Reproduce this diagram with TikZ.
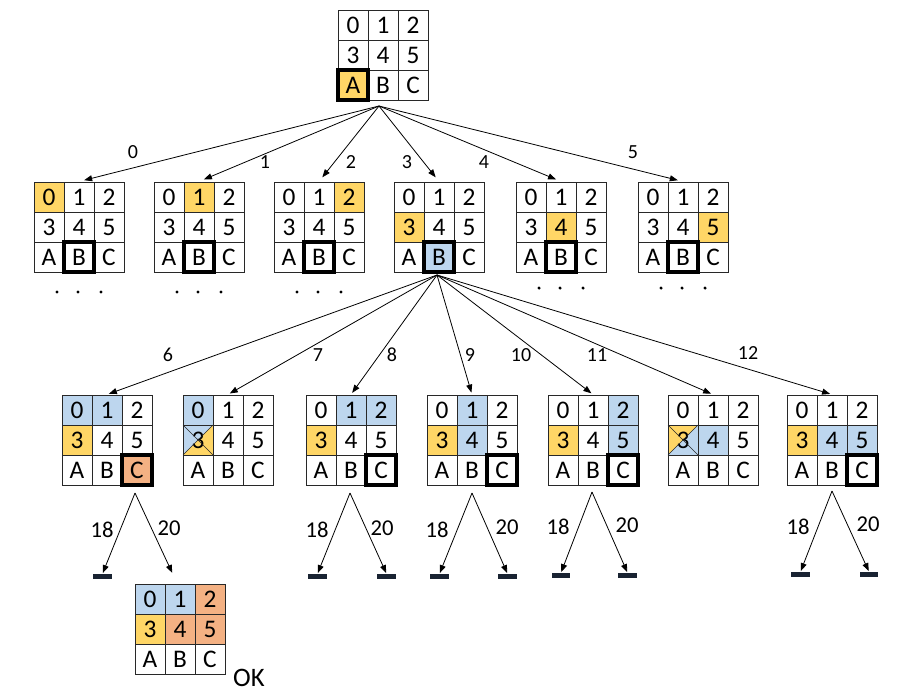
\documentclass[tikz,border=0pt]{standalone}
\usepackage{fontspec}
\setmainfont{Carlito}
\usetikzlibrary{arrows.meta}
\definecolor{cyel}{RGB}{255,214,102}
\definecolor{cblu}{RGB}{189,214,238}
\definecolor{corg}{RGB}{244,177,131}
\definecolor{cbar}{RGB}{25,35,50}
\definecolor{cline}{RGB}{40,40,40}
\tikzset{
 celltxt/.style={inner sep=0pt, font=\fontsize{19}{19}\selectfont},
 gridbox/.style={draw=cline, line width=0.75pt, minimum width=67.5pt, minimum height=67.5pt, inner sep=0pt},
 gline/.style={draw=cline, line width=0.75pt},
 boldcell/.style={draw=black, line width=2.3pt},
 arr/.style={-{Triangle[length=6pt,width=4.5pt]}, line width=0.6pt, shorten >=0.5pt},
 elab/.style={font=\fontsize{15}{15}\selectfont, inner sep=0pt},
 blab/.style={font=\fontsize{17}{17}\selectfont, inner sep=0pt},
 barnode/.style={fill=cbar, minimum width=14pt, minimum height=3.8pt, inner sep=0pt},
 xline/.style={draw=cline, line width=0.5pt},
}
\newcommand{\fc}[5]{\fill[#5] ({#1+30*#3},{#2+30*#4}) rectangle ++(30,30);}
\newcommand{\bc}[4]{\draw[boldcell] ({#1+30*#3},{#2+30*#4}) rectangle ++(30,30);}
\newcommand{\gridbody}[3]{%
  \foreach \kk in {1,2} {\draw[gline] ({#2+30*\kk},#3) -- ++(0,90); \draw[gline] (#2,{#3+30*\kk}) -- ++(90,0);}
  \node[gridbox] (#1) at ({#2+45},{#3+45}) {};
  \foreach \t [count=\i from 0] in {0,1,2,3,4,5,A,B,C} {
    \pgfmathtruncatemacro\cc{mod(\i,3)}\pgfmathtruncatemacro\rr{div(\i,3)}
    \node[celltxt] (#1-\i) at ({#2+15+30*\cc},{#3+15+30*\rr}) {\t};
  }
}
% crossed cell 3: x y (grid top-left), colour of upper-left half, colour of lower-right half
\newcommand{\xcell}[4]{%
  \fill[#3] (#1,{#2+30}) -- ++(30,0) -- ++(-30,30) -- cycle;
  \fill[#4] ({#1+30},{#2+30}) -- ++(0,30) -- ++(-30,0) -- cycle;
}
\newcommand{\xlines}[2]{%
  \draw[xline] (#1,{#2+30}) -- ++(30,30);
  \draw[xline] ({#1+30},{#2+30}) -- ++(-30,30);
}
\begin{document}
\begin{tikzpicture}[x=0.75pt,y=-0.75pt]
\useasboundingbox (0,0) rectangle (917,694);
\fill[white] (0,0) rectangle (917,694);

% top grid
\fc{338}{10}{0}{2}{cyel}
\gridbody{top}{338}{10}
\bc{338}{10}{0}{2}

% row 2
\foreach \x [count=\k from 0] in {34,154,274,394,516,638} {
  \pgfmathtruncatemacro\ca{mod(\k,3)}\pgfmathtruncatemacro\ra{div(\k,3)}
  \fc{\x}{182}{\ca}{\ra}{cyel}
}
\fc{394}{182}{1}{2}{cblu}
\foreach \x [count=\k from 0] in {34,154,274,394,516,638} {
  \gridbody{r\k}{\x}{182}
  \bc{\x}{182}{1}{2}
}
% dots
\foreach \x/\y in {34/292,154/292,274/292,516/288,638/288} {
  \foreach \d in {23,44,67} {\fill ({\x+\d},\y) circle (1.3pt);}
}

% row 3 fills
\fc{62}{395}{0}{0}{cblu}\fc{62}{395}{1}{0}{cblu}\fc{62}{395}{0}{1}{cyel}\fc{62}{395}{2}{2}{corg}
\fc{183}{395}{0}{0}{cblu}\xcell{183}{395}{cblu}{cyel}
\fc{306}{395}{1}{0}{cblu}\fc{306}{395}{2}{0}{cblu}\fc{306}{395}{0}{1}{cyel}
\fc{427}{395}{1}{0}{cblu}\fc{427}{395}{1}{1}{cblu}\fc{427}{395}{0}{1}{cyel}
\fc{548}{395}{2}{0}{cblu}\fc{548}{395}{2}{1}{cblu}\fc{548}{395}{0}{1}{cyel}
\fc{668}{395}{1}{1}{cblu}\xcell{668}{395}{cyel}{cblu}
\fc{787}{395}{1}{1}{cblu}\fc{787}{395}{2}{1}{cblu}\fc{787}{395}{0}{1}{cyel}
\foreach \x [count=\k from 1] in {62,183,306,427,548,668,787} {
  \gridbody{s\k}{\x}{395}
}
\xlines{183}{395}
\xlines{668}{395}
\foreach \x in {62,306,427,548,787} {\bc{\x}{395}{2}{2}}

% final grid
\fc{135}{584}{0}{0}{cblu}\fc{135}{584}{1}{0}{cblu}\fc{135}{584}{0}{1}{cyel}
\fc{135}{584}{2}{0}{corg}\fc{135}{584}{1}{1}{corg}\fc{135}{584}{2}{1}{corg}
\gridbody{fin}{135}{584}
\node[font=\fontsize{20}{20}\selectfont, inner sep=0pt] (ok) at (249,678) {OK};

% top fan
\coordinate (ftop) at (379,106);
\foreach \k/\lx/\ly in {0/133/152,1/265/162,2/351/162,3/407/162,4/484/162,5/633/152} {
  \draw[arr, shorten >=4pt] (ftop) -- (r\k.north);
  \node[elab] (lr\k) at (\lx,\ly) {\k};
}

% middle fan
\coordinate (fmid) at (437,275);
\foreach \k/\lx/\ly [count=\j from 1] in {6/168/355,7/318/355,8/392/355,9/470/355,10/521/355,11/597/355,12/748/353} {
  \draw[arr, shorten >=1.5pt] (fmid) -- (s\j.north);
  \node[elab] (ls\k) at (\lx,\ly) {\k};
}

% bottom groups
\coordinate (a1) at (135,493);
\node[barnode] (b1l) at (102.5,576.5) {};
\draw[arr] (a1) -- (b1l.north);
\draw[arr] (a1) -- ([xshift=-5.6pt,yshift=7.5pt]fin.north);
\node[blab] (l1a) at (102,530) {18};
\node[blab] (l1b) at (169,528) {20};

\foreach \n/\ax/\ay/\lx/\rx/\by/\ta/\tb/\tay/\tbx/\tby in {
  2/350/493/317.5/386.5/576.5/317/382/530/382/528,
  3/472/493/439.5/507.5/576.5/437/507/530/507/527,
  4/592/492/561/627.5/575.5/558/627/527/627/525,
  5/832/491/800.5/869/574.5/798/868/527/868/524} {
  \coordinate (a\n) at (\ax,\ay);
  \node[barnode] (b\n l) at (\lx,\by) {};
  \node[barnode] (b\n r) at (\rx,\by) {};
  \draw[arr] (a\n) -- (b\n l.north);
  \draw[arr] (a\n) -- (b\n r.north);
  \node[blab] (l\n a) at (\ta,\tay) {18};
  \node[blab] (l\n b) at (\tbx,\tby) {20};
}
\end{tikzpicture}
\end{document}
